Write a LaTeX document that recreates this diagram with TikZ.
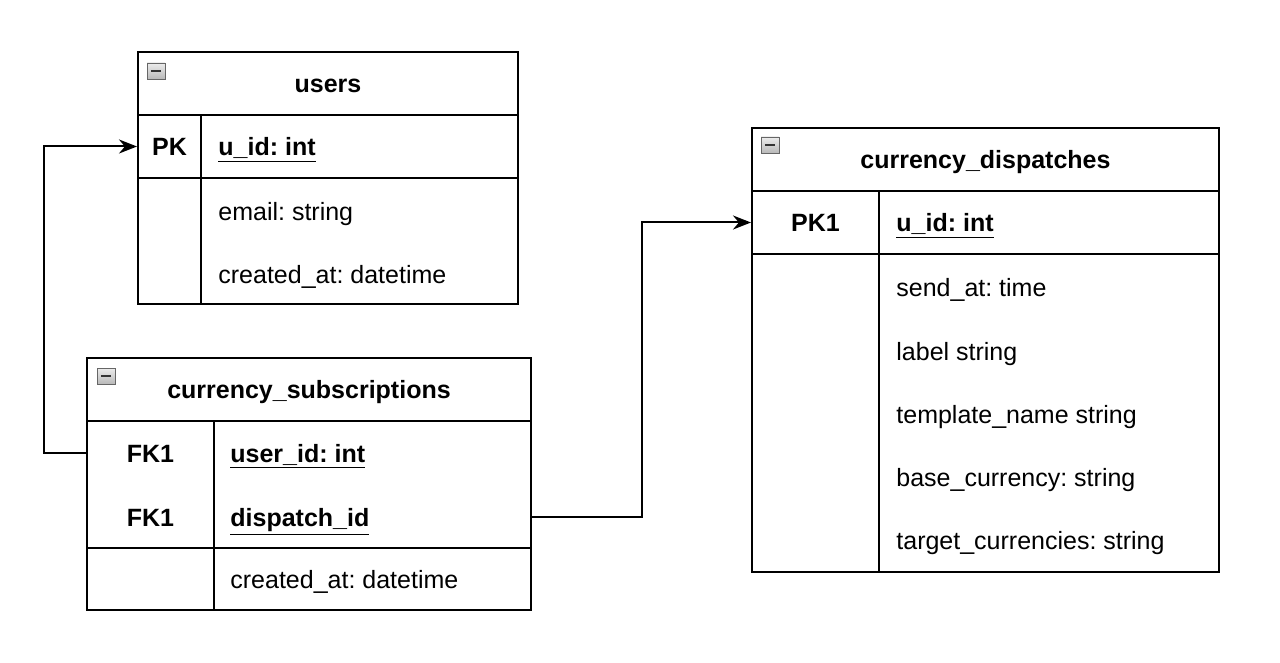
\documentclass[tikz,border=0pt]{standalone}
\usepackage{fontspec}
\setmainfont{Liberation Sans}
\frenchspacing
\usetikzlibrary{positioning,arrows.meta,fit}

\tikzset{
  every label text/.style={font=\fontsize{12.5}{15}\selectfont, inner sep=0pt,
    text height=9pt, text depth=0pt},
  cell/.style={draw, line width=1pt, inner sep=0pt},
  title/.style={every label text, font=\fontsize{12.5}{15}\selectfont\bfseries},
  key/.style={every label text, font=\fontsize{12.5}{15}\selectfont\bfseries},
  field/.style={every label text, anchor=west},
  pkfield/.style={field, font=\fontsize{12.5}{15}\selectfont\bfseries},
  minus/.style={draw=gray!80!black, top color=gray!15, bottom color=gray!55,
    line width=0.4pt, minimum width=9pt, minimum height=8pt, inner sep=0pt,
    path picture={\draw[line width=0.9pt, black!80]
      ([xshift=-2.6pt]path picture bounding box.center) --
      ([xshift=2.6pt]path picture bounding box.center);}},
  link/.style={-{Stealth[length=9pt,width=7pt]}, line width=1pt}
}

\begin{document}
\begin{tikzpicture}[x=0.5pt, y=-0.5pt]
\useasboundingbox (0,0) rectangle (1280,663);

% table frames
\foreach \n/\a/\b/\c/\d in {users-head/138/52/518/115, users-pk/138/115/201/178,
    users-pkf/201/115/518/178, users-keys/138/178/201/304, users-rest/201/178/518/304,
    subs-head/87/358/531/421, subs-fkk/87/421/214/548, subs-fk/214/421/531/548,
    subs-keys/87/548/214/610, subs-rest/214/548/531/610,
    disp-head/752/128/1219/191, disp-pk/752/191/879/254, disp-pkf/879/191/1219/254,
    disp-keys/752/254/879/572, disp-rest/879/254/1219/572}
  \node [cell, fit={(\a,\b) (\c,\d)}] (\n) {};

% collapse icons
\node [minus] (users-minus) at (156,71) {};
\node [minus] (subs-minus) at (106,376) {};
\node [minus] (disp-minus) at (770,145) {};

% titles
\node [title] (users) at (users-head) {users};
\node [title] (subs) at (subs-head) {currency\_subscriptions};
\node [title] (disp) at (disp-head) {currency\_dispatches};

% keys
\node [key] (users-key1) at (users-pk) {PK};
\node [key] (subs-key1) at (150.5,453) {FK1};
\node [key] (subs-key2) at (150.5,517) {FK1};
\node [key] (disp-key1) at (disp-pk) {PK1};

% users fields
\node [pkfield] (users-id) at (218,146.5) {\underline{u\_id: int}};
\foreach \l [count=\i] in {email: string, created\_at: datetime}
  \node [field] (users-f\i) at (218,149+\i*63) {\l};

% subscriptions fields
\node [pkfield] (subs-user) at (230,453) {\underline{user\_id: int}};
\node [pkfield] (subs-disp) at (230,517) {\underline{dispatch\_id}};
\node [field] (subs-f1) at (230,579.5) {created\_at: datetime};

% dispatches fields
\node [pkfield] (disp-id) at (896,222.5) {\underline{u\_id: int}};
\foreach \l [count=\i] in {send\_at: time, label string, template\_name string,
    base\_currency: string, target\_currencies: string}
  \node [field] (disp-f\i) at (896,225+\i*63) {\l};

% relations
\draw [link] (subs-fkk.west |- subs-key1) -- ++(-42,0) |- (users-pk.west);
\draw [link] (subs-fk.east |- subs-disp) -- ++(110,0) |- (disp-pk.west);
\end{tikzpicture}
\end{document}
